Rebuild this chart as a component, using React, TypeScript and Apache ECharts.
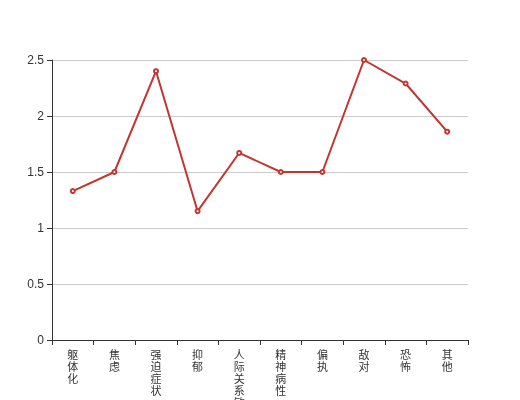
import React, { useEffect, useRef } from "react";
import * as echarts from "echarts";

const categories = ["躯体化", "焦虑", "强迫症状", "抑郁", "人际关系敏感", "精神病性", "偏执", "敌对", "恐怖", "其他"];
const values = [1.33, 1.5, 2.4, 1.15, 1.67, 1.5, 1.5, 2.5, 2.29, 1.86];

export default function App() {
  const ref = useRef<HTMLDivElement>(null);
  useEffect(() => {
    const chart = echarts.init(ref.current!, null, { renderer: "svg" });
    chart.setOption({
      animation: false,
      grid: { left: 52, right: 52, top: 60, bottom: 60, containLabel: false, outerBoundsMode: "none" },
      xAxis: {
        type: "category",
        data: categories,
        axisLine: { show: true, lineStyle: { color: "#333" } },
        axisTick: { show: true, alignWithLabel: false, lineStyle: { color: "#333" } },
        axisLabel: {
          interval: 0,
          color: "#333",
          fontSize: 11,
          lineHeight: 12,
          fontFamily: "Noto Sans CJK SC",
          formatter: (v: string) => v.split("").join("\n"),
        },
      },
      yAxis: {
        type: "value",
        min: 0,
        max: 2.5,
        interval: 0.5,
        axisLine: { show: true, lineStyle: { color: "#333" } },
        axisTick: { show: true, lineStyle: { color: "#333" } },
        axisLabel: { color: "#333", fontSize: 12 },
        splitLine: { lineStyle: { color: "#ccc" } },
      },
      series: [
        {
          type: "line",
          data: values,
          symbol: "emptyCircle",
          symbolSize: 4,
          itemStyle: { color: "#c23531" },
          lineStyle: { color: "#c23531", width: 2 },
        },
      ],
    });
    return () => chart.dispose();
  }, []);
  return <div ref={ref} style={{ position: "fixed", left: 0, top: 0, width: 520, height: 400 }} />;
}
